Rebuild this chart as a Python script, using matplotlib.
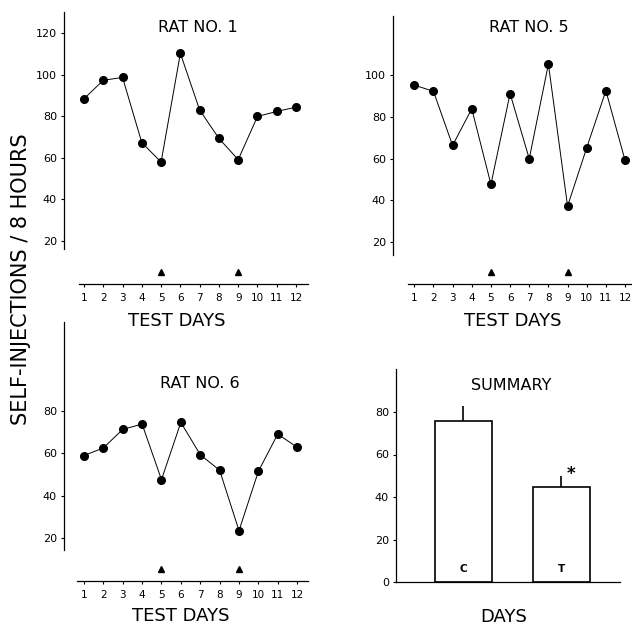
import matplotlib
matplotlib.use('Agg')
import matplotlib.pyplot as plt

W, H = 632, 625

# ---------------- data ----------------
days = list(range(1, 13))
rat1 = [88.5, 97.4, 98.8, 67.4, 58.0, 110.4, 83.1, 69.4, 59.2, 80.0, 82.4, 84.5]
rat5 = [95.3, 92.3, 66.3, 83.9, 47.6, 91.2, 59.9, 105.4, 37.1, 65.2, 92.6, 59.1]
rat6 = [58.9, 62.5, 71.2, 73.7, 47.6, 74.5, 59.3, 52.0, 23.6, 51.5, 69.0, 62.8]
treatment_days = [5, 9]

summary_labels = ['C', 'T']
summary_means = [75.5, 44.8]
summary_sem = [7.2, 5.2]

yticks_rat1 = [20, 40, 60, 80, 100, 120]
yticks_rat5 = [20, 40, 60, 80, 100]
yticks_rat6 = [20, 40, 60, 80]
yticks_summary = [0, 20, 40, 60, 80]

titles = ['RAT NO. 1', 'RAT NO. 5', 'RAT NO. 6', 'SUMMARY']
xlabel_days = 'TEST DAYS'
xlabel_summary = 'DAYS'
ylabel = 'SELF-INJECTIONS / 8 HOURS'

# ---------------- figure ----------------
plt.rcParams['font.family'] = ['DejaVu Sans']
fig = plt.figure(figsize=(W / 100, H / 100), dpi=100)


def px_axes(l, t, r, b):
    return fig.add_axes([l / W, 1 - b / H, (r - l) / W, (b - t) / H])


def ftext(x, y, s, **kw):
    fig.text(x / W, 1 - y / H, s, **kw)


TICK_FS = 8


def line_panel(rect, xlim, ylim, spine_y, spine_x, yticks, values, tri_frac):
    ax = px_axes(*rect)
    ax.set_xlim(*xlim)
    ax.set_ylim(*ylim)
    ax.plot(days, values, '-', color='black', lw=0.7, marker='o', ms=5.5,
            mfc='black', mec='black', clip_on=False)
    ax.plot(treatment_days, [tri_frac] * len(treatment_days),
            transform=ax.get_xaxis_transform(), ls='none', marker='^',
            ms=5, color='black', clip_on=False)
    for s in ['top', 'right']:
        ax.spines[s].set_visible(False)
    ax.spines['left'].set_bounds(*spine_y)
    ax.spines['bottom'].set_bounds(*spine_x)
    for s in ['left', 'bottom']:
        ax.spines[s].set_linewidth(0.9)
    ax.set_yticks(yticks)
    ax.set_xticks(days)
    ax.tick_params(axis='y', length=2, width=0.8, pad=3, labelsize=TICK_FS)
    ax.tick_params(axis='x', length=2, width=0.8, pad=4.5, labelsize=TICK_FS - 0.5)
    ax.patch.set_visible(False)
    return ax


# Rat 1
line_panel((64, 12, 308, 284), (-0.036, 12.62), (-0.7, 130.3), (16.1, 130.3),
           (0.74, 12.62), yticks_rat1, rat1, 0.044)
# Rat 5
line_panel((393, 16, 640, 284), (-0.11, 12.78), (-0.3, 128.5), (13.6, 128.5),
           (0.66, 12.78), yticks_rat5, rat5, 0.045)
# Rat 6
line_panel((64, 322, 308, 581), (-0.03, 12.56), (-0.07, 121.7), (14.6, 121.7),
           (0.62, 12.56), yticks_rat6, rat6, 0.045)

# Summary
ax = px_axes(396, 369.3, 620, 582.3)
ax.set_xlim(-0.689, 1.598)
ax.set_ylim(0, 100)
xpos = list(range(len(summary_means)))
ax.bar(xpos, summary_means, width=0.59, color='white', edgecolor='black',
       linewidth=1.2, zorder=2)
tops = [m + e for m, e in zip(summary_means, summary_sem)]
ax.vlines(xpos, summary_means, tops, color='black', lw=1.2, zorder=1)
for x, lab in zip(xpos, summary_labels):
    ax.text(x, 6.1, lab, ha='center', va='center', fontsize=7.5,
            fontweight='bold')
ax.annotate('*', xy=(xpos[1], tops[1]), xytext=(7, 1),
            textcoords='offset points', ha='center', va='center',
            fontsize=12, fontweight='bold')
for s in ['top', 'right']:
    ax.spines[s].set_visible(False)
for s in ['left', 'bottom']:
    ax.spines[s].set_linewidth(0.9)
ax.set_yticks(yticks_summary)
ax.set_xticks([])
ax.tick_params(axis='y', length=2, width=0.8, pad=3, labelsize=TICK_FS)
ax.patch.set_visible(False)

# Titles and labels
TITLE_FS = 11.5
ftext(198, 27, titles[0], ha='center', va='center', fontsize=TITLE_FS)
ftext(529, 27, titles[1], ha='center', va='center', fontsize=TITLE_FS)
ftext(200, 383, titles[2], ha='center', va='center', fontsize=TITLE_FS)
ftext(511, 385, titles[3], ha='center', va='center', fontsize=TITLE_FS)

XL_FS = 13
ftext(177, 321, xlabel_days, ha='center', va='center', fontsize=XL_FS)
ftext(513, 321, xlabel_days, ha='center', va='center', fontsize=XL_FS)
ftext(181, 616, xlabel_days, ha='center', va='center', fontsize=XL_FS)
ftext(504, 617, xlabel_summary, ha='center', va='center', fontsize=XL_FS)

ftext(21, 279, ylabel, ha='center', va='center', rotation=90, fontsize=15)

fig.savefig('out.png', dpi=100)
